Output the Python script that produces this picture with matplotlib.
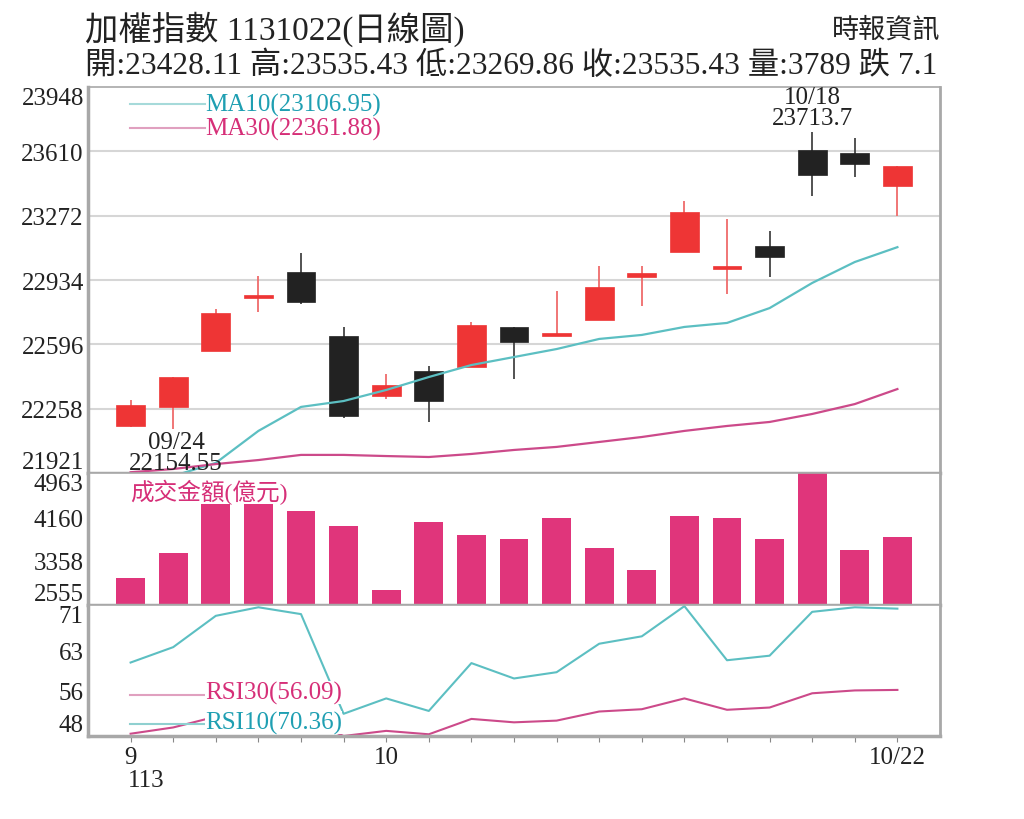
import numpy as np
import matplotlib
matplotlib.use("Agg")
import matplotlib.pyplot as plt

plt.rcParams['font.family'] = ['Liberation Serif', 'Noto Sans CJK TC']

# 交易日 (民國113年)
dates = ['09/23', '09/24', '09/25', '09/26', '09/27', '09/30', '10/01', '10/04',
         '10/07', '10/08', '10/09', '10/11', '10/14', '10/15', '10/16', '10/17',
         '10/18', '10/21', '10/22']

opens = [22169, 22269, 22563, 22840, 22975, 22639, 22327, 22458, 22476, 22686,
         22639, 22724, 22949, 23083, 22992, 23111, 23617, 23600, 23428.11]
highs = [22304, 22427, 22782, 22957, 23075, 22686, 22441, 22484, 22713, 22686,
         22878, 23009, 23009, 23351, 23255, 23190, 23713.7, 23680, 23535.43]
lows = [22160, 22154.55, 22563, 22765, 22807, 22212, 22310, 22187, 22476, 22415,
        22639, 22724, 22799, 23083, 22861, 22952, 23377, 23477, 23269.86]
closes = [22280, 22427, 22760, 22857, 22821, 22222, 22385, 22300, 22700, 22611,
          22656, 22899, 22970, 23290, 23009, 23053, 23488, 23542.53, 23535.43]

ma10 = [21860, 21905, 21974, 22142, 22268, 22299, 22357, 22425, 22488, 22530,
        22572, 22625, 22646, 22688, 22709, 22787, 22919, 23029, 23106.95]
ma30 = [21925, 21942, 21968, 21989, 22016, 22016, 22010, 22005, 22021, 22042,
        22058, 22084, 22110, 22142, 22168, 22189, 22231, 22283, 22361.88]

volume = [3042, 3503, 4397, 4400, 4275, 3990, 2834, 4063, 3837, 3759,
          4136, 3589, 3193, 4172, 4142, 3759, 4963, 3564, 3789]

rsi10 = [60.9, 63.6, 69.1, 70.6, 69.4, 51.9, 54.6, 52.4, 60.8, 58.1,
         59.2, 64.2, 65.5, 70.8, 61.3, 62.1, 69.8, 70.6, 70.36]
rsi30 = [48.4, 49.5, 51.4, 52.0, 51.5, 48.0, 48.9, 48.3, 51.0, 50.4,
         50.7, 52.3, 52.7, 54.6, 52.6, 53.0, 55.5, 56.0, 56.09]

price_ticks = [21921, 22258, 22596, 22934, 23272, 23610, 23948]
vol_ticks = [2555, 3358, 4160, 4963]
rsi_ticks = [48, 56, 63, 71]

RED = '#ee3535'
BLACK = '#222222'
PINK = '#e0357b'
CYAN_LINE = '#5cbfc2'
MAG_LINE = '#cc4a8a'
CYAN_TXT = '#1f9fb2'
MAG_TXT = '#d62f78'
SPINE = '#a8a8a8'

x = np.arange(len(dates))
fig = plt.figure(figsize=(10.24, 8.2), dpi=100)
L, W = 88 / 1024, 852 / 1024


def fy(px):
    return 1 - px / 820


ax_p = fig.add_axes([L, fy(474), W, fy(88) - fy(474)])
ax_v = fig.add_axes([L, fy(606), W, fy(474) - fy(606)], sharex=ax_p)
ax_r = fig.add_axes([L, fy(737), W, fy(606) - fy(737)], sharex=ax_p)

for ax, ticks in ((ax_p, price_ticks), (ax_v, vol_ticks), (ax_r, rsi_ticks)):
    ax.set_ylim(ticks[0], ticks[-1])
    ax.set_yticks(ticks)
    ax.set_yticklabels([str(t) for t in ticks])
    ax.tick_params(axis='y', length=0, pad=3, labelsize=18, labelcolor='#222222')
    labs = ax.get_yticklabels()
    labs[0].set_va('bottom')
    labs[-1].set_va('top')
    for s in ax.spines.values():
        s.set_color(SPINE)
        s.set_linewidth(2.5)
    ax.spines['top'].set_linewidth(1.2)
    ax.spines['right'].set_linewidth(2)

ax_p.set_xlim(-1, len(dates))

# 價格格線
for t in price_ticks[1:-1]:
    ax_p.axhline(t, color='#d6d6d6', lw=1.5, zorder=0)

# K線
bw = 0.68
for i in range(len(dates)):
    up = closes[i] >= opens[i]
    col = RED if up else BLACK
    wcol = '#ef6b6b' if up else '#444444'
    ax_p.vlines(x[i], lows[i], highs[i], color=wcol, lw=1.3, zorder=2)
    h = max(abs(closes[i] - opens[i]), 8)
    ax_p.bar(x[i], h, bottom=min(opens[i], closes[i]), width=bw, color=col,
             edgecolor=col, lw=0.5, zorder=3)

ax_p.plot(x, ma10, color=CYAN_LINE, lw=1.6, zorder=4)
ax_p.plot(x, ma30, color=MAG_LINE, lw=1.6, zorder=4)

# 圖例
ax_p.plot([0.049, 0.137], [0.956, 0.956], transform=ax_p.transAxes, color='#a6dada', lw=1.5)
ax_p.plot([0.049, 0.137], [0.893, 0.893], transform=ax_p.transAxes, color='#e0a0bf', lw=1.5)
ax_p.text(0.137, 0.956, 'MA10(23106.95)', transform=ax_p.transAxes, color=CYAN_TXT,
          fontsize=18, va='center', ha='left')
ax_p.text(0.137, 0.893, 'MA30(22361.88)', transform=ax_p.transAxes, color=MAG_TXT,
          fontsize=18, va='center', ha='left')

# 高低點標註
hi = int(np.argmax(highs))
lo = int(np.argmin(lows))
ax_p.annotate(f'{dates[hi]}\n{highs[hi]}', (x[hi], highs[hi]), xytext=(0, 2),
              textcoords='offset points', ha='center', va='bottom', fontsize=18,
              linespacing=0.95, color='#222222')
ax_p.annotate(f'{dates[lo]}\n{lows[lo]:.2f}', (x[lo], lows[lo]), xytext=(2, -2),
              textcoords='offset points', ha='center', va='top', fontsize=18,
              linespacing=0.95, color='#222222', zorder=6)

# 成交金額
ax_v.bar(x, volume, width=bw, bottom=0, color=PINK, zorder=2)
ax_v.set_ylim(vol_ticks[0], vol_ticks[-1])
ax_v.text(0.049, 0.86, '成交金額(億元)', transform=ax_v.transAxes, color=MAG_TXT,
          fontsize=17, va='center', ha='left', zorder=5)

# RSI
ax_r.plot(x, rsi10, color=CYAN_LINE, lw=1.5, zorder=2)
ax_r.plot(x, rsi30, color=MAG_LINE, lw=1.5, zorder=2)
ax_r.plot([0.049, 0.137], [0.31, 0.31], transform=ax_r.transAxes, color='#e0a0bf', lw=1.5, zorder=4)
ax_r.plot([0.049, 0.137], [0.09, 0.09], transform=ax_r.transAxes, color='#8fd0d0', lw=1.5, zorder=4)
ax_r.text(0.137, 0.33, 'RSI30(56.09)', transform=ax_r.transAxes, color=MAG_TXT, fontsize=18,
          va='center', ha='left', zorder=5,
          bbox=dict(facecolor='white', edgecolor='none', pad=0))
ax_r.text(0.137, 0.105, 'RSI10(70.36)', transform=ax_r.transAxes, color=CYAN_TXT, fontsize=18,
          va='center', ha='left', zorder=5,
          bbox=dict(facecolor='white', edgecolor='none', pad=0))

# X軸
xt_labels = []
for i, d in enumerate(dates):
    m = d.split('/')[0]
    if i == len(dates) - 1:
        xt_labels.append(d)
    elif i == 0 or m != dates[i - 1].split('/')[0]:
        xt_labels.append(str(int(m)))
    else:
        xt_labels.append('')
ax_r.set_xticks(x)
ax_r.set_xticklabels(xt_labels)
ax_r.tick_params(axis='x', length=4, color='#888888', pad=3, labelsize=18, labelcolor='#222222')
for ax in (ax_p, ax_v):
    ax.tick_params(axis='x', bottom=False, labelbottom=False)
ax_r.text(-0.07, -0.25, '113', transform=ax_r.get_xaxis_transform(), fontsize=18,
          va='top', ha='left', color='#222222')

# 標題
fig.text(85 / 1024, fy(29), '加權指數 1131022(日線圖)', fontsize=24, va='center',
         ha='left', color='#222222')
fig.text(85 / 1024, fy(66), '開:23428.11 高:23535.43 低:23269.86 收:23535.43 量:3789 跌 7.1',
         fontsize=22.6, va='center', ha='left', color='#222222')
fig.text(940 / 1024, fy(31), '時報資訊', fontsize=19.5, va='center', ha='right', color='#222222')

fig.savefig('out.png', dpi=100, facecolor='white')
